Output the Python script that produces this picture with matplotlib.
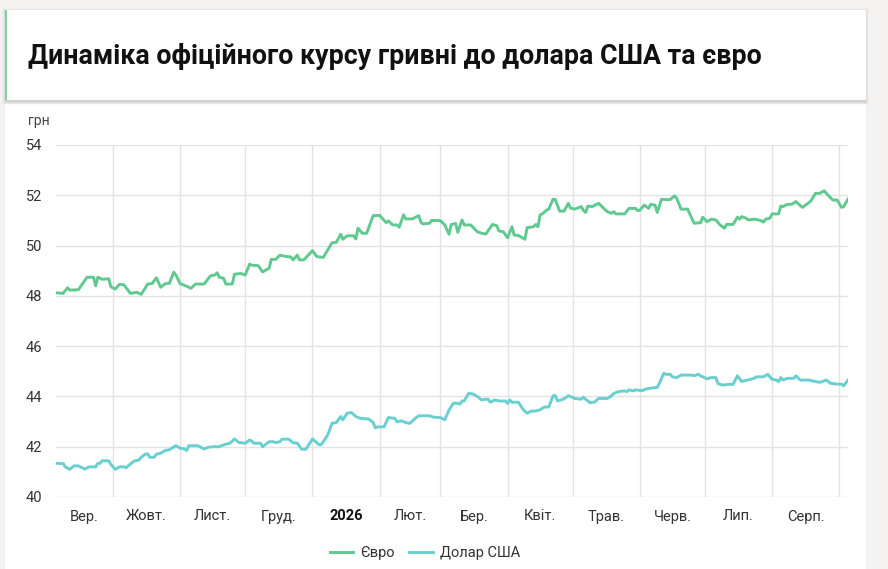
import datetime as dt
import matplotlib
matplotlib.use("Agg")
import matplotlib.pyplot as plt
import matplotlib.dates as mdates
from matplotlib.patches import Rectangle

plt.rcParams['font.family'] = ['Roboto', 'DejaVu Sans']

# ---------------- data ----------------
start_date = dt.date(2025, 9, 1)

eur_days = [4, 7, 9, 10, 14, 18, 21, 22, 23, 25, 28, 29, 31, 33, 35, 38, 41, 43, 46, 48,
            50, 52, 54, 56, 58, 59, 61, 63, 66, 68, 72, 75, 77, 78, 79, 81, 82, 85, 86, 89,
            91, 93, 94, 97, 99, 102, 103, 105, 107, 110, 112, 113, 115, 116, 118, 122, 124,
            127, 131, 133, 135, 136, 138, 141, 142, 143, 145, 147, 150, 153, 156, 157, 159,
            161, 162, 164, 165, 168, 171, 172, 173, 176, 177, 181, 183, 185, 186, 188, 189,
            191, 192, 195, 198, 200, 202, 205, 207, 208, 210, 212, 214, 215, 217, 220, 221,
            224, 225, 226, 227, 228, 230, 231, 233, 234, 236, 238, 240, 241, 243, 246, 247,
            248, 249, 251, 254, 256, 258, 260, 261, 262, 266, 268, 271, 272, 273, 275, 277,
            278, 280, 281, 283, 285, 287, 289, 290, 292, 295, 298, 301, 302, 304, 306, 308,
            310, 312, 313, 316, 318, 319, 320, 322, 323, 326, 329, 330, 331, 333, 334, 337,
            338, 339, 341, 343, 345, 347, 348, 351, 352, 354, 356, 358, 359, 362, 364, 366,
            367, 369]
eur_vals = [48.12, 48.10, 48.32, 48.23, 48.24, 48.74, 48.74, 48.40, 48.74, 48.66, 48.68, 48.36,
            48.27, 48.46, 48.44, 48.10, 48.14, 48.06, 48.47, 48.49, 48.72, 48.34, 48.48, 48.50,
            48.94, 48.83, 48.48, 48.42, 48.30, 48.47, 48.47, 48.80, 48.83, 48.92, 48.74, 48.70,
            48.47, 48.47, 48.86, 48.89, 48.83, 49.26, 49.22, 49.20, 48.95, 49.10, 49.45, 49.45,
            49.62, 49.56, 49.55, 49.43, 49.62, 49.43, 49.43, 49.80, 49.56, 49.53, 50.11, 50.13,
            50.45, 50.25, 50.39, 50.39, 50.26, 50.69, 50.49, 50.49, 51.19, 51.20, 50.91, 50.98,
            50.82, 50.82, 50.73, 51.22, 51.06, 51.06, 51.19, 50.93, 50.86, 50.89, 51.00, 50.99,
            50.82, 50.45, 50.84, 50.88, 50.53, 51.02, 50.82, 50.82, 50.55, 50.49, 50.46, 50.84,
            50.79, 50.58, 50.55, 50.31, 50.75, 50.42, 50.40, 50.25, 50.71, 50.75, 50.84, 50.75,
            51.22, 51.26, 51.41, 51.45, 51.85, 51.83, 51.37, 51.37, 51.68, 51.49, 51.45, 51.55,
            51.39, 51.32, 51.57, 51.55, 51.68, 51.51, 51.35, 51.28, 51.35, 51.26, 51.26, 51.48,
            51.48, 51.39, 51.41, 51.61, 51.48, 51.64, 51.61, 51.32, 51.84, 51.83, 51.83, 51.98,
            51.88, 51.45, 51.45, 50.89, 50.91, 51.13, 50.95, 51.05, 51.02, 50.82, 50.69, 50.84,
            50.84, 51.13, 51.05, 51.15, 51.09, 51.02, 51.05, 50.99, 50.93, 51.05, 51.09, 51.26,
            51.26, 51.57, 51.55, 51.64, 51.64, 51.75, 51.59, 51.52, 51.71, 51.79, 52.08, 52.08,
            52.18, 52.08, 51.81, 51.81, 51.52, 51.55, 51.85]

usd_days = [4, 7, 8, 10, 12, 14, 17, 19, 22, 23, 24, 25, 28, 29, 31, 33, 35, 36, 38, 40,
            42, 43, 45, 46, 47, 49, 50, 52, 54, 56, 59, 61, 63, 64, 65, 69, 70, 72, 74, 76,
            79, 80, 82, 84, 86, 88, 91, 93, 94, 95, 98, 99, 102, 104, 105, 107, 108, 111, 113,
            115, 117, 119, 122, 125, 126, 129, 131, 133, 135, 136, 138, 140, 142, 144, 148,
            150, 151, 152, 155, 157, 160, 161, 163, 165, 167, 169, 171, 176, 178, 181, 183,
            185, 187, 189, 190, 191, 192, 194, 196, 198, 200, 202, 203, 204, 206, 208, 211,
            212, 213, 214, 217, 219, 221, 223, 225, 227, 229, 231, 233, 234, 235, 238, 240,
            243, 246, 247, 248, 250, 252, 254, 258, 260, 261, 263, 266, 267, 268, 270, 271,
            274, 276, 278, 281, 282, 284, 285, 287, 288, 290, 292, 297, 298, 300, 301, 304,
            306, 308, 309, 311, 314, 316, 318, 320, 321, 325, 327, 330, 332, 334, 336, 337,
            338, 339, 341, 344, 345, 347, 351, 354, 356, 359, 361, 364, 366, 367, 369]
usd_vals = [41.34, 41.33, 41.20, 41.10, 41.24, 41.24, 41.11, 41.20, 41.20, 41.34, 41.34, 41.44,
            41.44, 41.30, 41.10, 41.20, 41.20, 41.16, 41.31, 41.44, 41.47, 41.58, 41.71, 41.71,
            41.58, 41.58, 41.70, 41.74, 41.85, 41.88, 42.04, 41.94, 41.91, 41.85, 42.04, 42.04,
            42.00, 41.91, 41.98, 42.00, 42.00, 42.04, 42.10, 42.14, 42.31, 42.17, 42.14, 42.27,
            42.22, 42.14, 42.14, 42.00, 42.20, 42.20, 42.16, 42.20, 42.30, 42.30, 42.16, 42.14,
            41.90, 41.90, 42.31, 42.08, 42.08, 42.46, 42.93, 42.96, 43.20, 43.07, 43.33, 43.36,
            43.20, 43.13, 43.10, 42.96, 42.75, 42.79, 42.79, 43.16, 43.13, 42.99, 43.03, 42.96,
            42.93, 43.10, 43.23, 43.23, 43.17, 43.16, 43.07, 43.46, 43.73, 43.73, 43.69, 43.82,
            43.82, 44.12, 44.10, 44.00, 43.86, 43.89, 43.89, 43.77, 43.86, 43.82, 43.82, 43.72,
            43.86, 43.77, 43.77, 43.50, 43.33, 43.42, 43.42, 43.47, 43.58, 43.58, 44.03, 44.03,
            43.82, 43.90, 44.03, 43.92, 43.89, 43.97, 43.89, 43.75, 43.77, 43.92, 43.92, 44.03,
            44.12, 44.19, 44.22, 44.19, 44.26, 44.22, 44.26, 44.23, 44.30, 44.33, 44.36, 44.52,
            44.92, 44.88, 44.88, 44.78, 44.75, 44.85, 44.85, 44.82, 44.88, 44.82, 44.70, 44.75,
            44.75, 44.52, 44.45, 44.48, 44.48, 44.82, 44.59, 44.62, 44.70, 44.78, 44.78, 44.88,
            44.68, 44.65, 44.59, 44.75, 44.65, 44.72, 44.72, 44.82, 44.65, 44.65, 44.59, 44.56,
            44.65, 44.52, 44.49, 44.49, 44.42, 44.65]

series_names = ['Євро', 'Долар США']
series_colors = ['#5fc98f', '#6acfcf']
month_labels = ['Вер.', 'Жовт.', 'Лист.', 'Груд.', '2026', 'Лют.', 'Бер.', 'Квіт.',
                'Трав.', 'Черв.', 'Лип.', 'Серп.']
y_ticks = [40, 42, 44, 46, 48, 50, 52, 54]
title = 'Динаміка офіційного курсу гривні до долара США та євро'
y_unit = 'грн'

# ---------------- figure ----------------
W, H = 888, 569
fig = plt.figure(figsize=(W / 100, H / 100), dpi=100, facecolor='#f4f3f2')


def box(x0, y0, x1, y1, z, **kw):
    fig.patches.append(Rectangle((x0 / W, 1 - y1 / H), (x1 - x0) / W, (y1 - y0) / H,
                                 transform=fig.transFigure, figure=fig, zorder=z, **kw))


# chart card
box(5, 104, 866, 569, -3, facecolor='white', edgecolor='none')
# title card shadow + card
for i, a in enumerate([0.05, 0.04, 0.03, 0.02]):
    box(5 - i, 10 - i + 1, 866 + i, 100 + i + 2, -2, facecolor='black', alpha=a,
        edgecolor='none')
box(5, 10, 866, 100, -1, facecolor='white', edgecolor='none')
box(5, 10, 6.5, 100, -0.5, facecolor='#7fd1a5', edgecolor='none')

fig.text(28 / W, 1 - 56.5 / H, title, fontsize=19.3, fontweight='bold', color='#111111',
         ha='left', va='center')
fig.text(28 / W, 1 - 121 / H, y_unit, fontsize=10, color='#444444', ha='left', va='center')

ax = fig.add_axes([56 / W, 1 - 497 / H, (848 - 56) / W, (497 - 145) / H])
ax.set_zorder(2)
ax.set_facecolor('none')

to_date = lambda d: start_date + dt.timedelta(days=d)
eur_x = [to_date(d) for d in eur_days]
usd_x = [to_date(d) for d in usd_days]

ax.plot(eur_x, eur_vals, color=series_colors[0], lw=2.1, label=series_names[0],
        solid_joinstyle='round', zorder=3)
ax.plot(usd_x, usd_vals, color=series_colors[1], lw=2.1, label=series_names[1],
        solid_joinstyle='round', zorder=3)

x0 = mdates.date2num(start_date) + 3.7
x1 = mdates.date2num(start_date) + 369.0
ax.set_xlim(x0, x1)
ax.set_ylim(40, 54)

# month boundaries (grid) and month label positions
month_starts = []
for k in range(13):
    y = 2025 + (8 + k) // 12
    m = (8 + k) % 12 + 1
    month_starts.append(mdates.date2num(dt.date(y, m, 1)))
grid_pos = [p for p in month_starts if x0 < p <= x1]
label_pos = []
for k in range(12):
    a = max(month_starts[k], x0)
    b = min(month_starts[k + 1], x1)
    label_pos.append((a + b) / 2)

ax.set_xticks(grid_pos)
ax.set_xticklabels([])
ax.set_xticks(label_pos, minor=True)
ax.set_xticklabels(month_labels, minor=True)
ax.tick_params(axis='x', which='both', length=0)
ax.tick_params(axis='x', which='minor', pad=9, labelsize=10.5, labelcolor='#333333')
for lab in ax.get_xticklabels(minor=True):
    if lab.get_text() == '2026':
        lab.set_fontweight('bold')
        lab.set_color('#111111')

ax.set_yticks(y_ticks)
ax.tick_params(axis='y', length=0, pad=10, labelsize=10.5, labelcolor='#333333')

ax.grid(True, which='major', axis='both', color='#e3e3e3', lw=1.0)
ax.set_axisbelow(True)
for s in ax.spines.values():
    s.set_visible(False)

fig.legend(loc='center', bbox_to_anchor=(425 / W, 1 - 553 / H), ncol=2, frameon=False,
           fontsize=10.5, handlelength=1.6, handletextpad=0.5, columnspacing=1.0,
           labelcolor='#333333')

fig.savefig('out.png', dpi=100, facecolor=fig.get_facecolor())
